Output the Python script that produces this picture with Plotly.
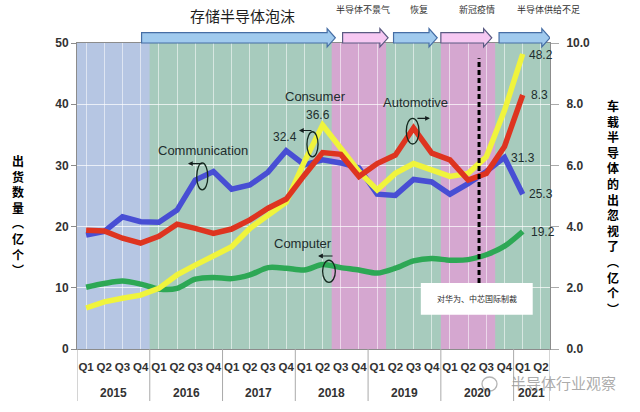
import plotly.graph_objects as go

# ---- data ----
quarters = ['Q1', 'Q2', 'Q3', 'Q4'] * 6 + ['Q1', 'Q2']
years = ['2015', '2016', '2017', '2018', '2019', '2020', '2021']
year_quarters = [4, 4, 4, 4, 4, 4, 2]

# 亿个 (left axis)
communication = [18.6, 19.2, 21.6, 20.8, 20.7, 22.7, 27.6, 29.0, 26.1, 26.8, 28.9, 32.4, 30.1,
                 30.9, 30.4, 29.6, 25.3, 25.1, 27.7, 27.3, 25.3, 27.0, 29.0, 31.3, 25.3]
consumer = [6.7, 7.7, 8.3, 8.8, 9.9, 12.1, 13.7, 15.1, 16.7, 19.7, 21.9, 24.0, 30.6,
            36.6, 32.8, 29.0, 26.0, 28.7, 30.3, 29.2, 28.2, 28.7, 31.4, 39.0, 48.2]
computer = [10.1, 10.7, 11.1, 10.6, 9.8, 9.9, 11.4, 11.7, 11.5, 12.1, 13.3, 13.2, 12.9,
            13.8, 13.3, 12.9, 12.4, 13.2, 14.4, 14.8, 14.5, 14.6, 15.4, 16.8, 19.2]
# 车载半导体 (right axis)
automotive = [3.88, 3.86, 3.62, 3.46, 3.68, 4.08, 3.94, 3.78, 3.92, 4.22, 4.6, 4.9, 5.68,
              6.42, 6.36, 5.64, 6.06, 6.34, 7.22, 6.40, 6.18, 5.52, 5.74, 6.62, 8.3]

# background periods (start, end in quarter index) and top arrows
bands = [(-0.5, 3.5, 'blue'), (3.5, 13.5, 'green'), (13.5, 16.5, 'pink'),
         (16.5, 19.5, 'green'), (19.5, 22.5, 'pink'), (22.5, 25.5, 'green')]
phases = ['存储半导体泡沫', '半导体不景气', '恢复', '新冠疫情', '半导体供给不足']
phase_arrows = [(3.05, 13.7, 'blue'), (14.1, 16.6, 'pink'), (16.9, 19.3, 'blue'),
                (19.5, 22.3, 'pink'), (22.7, 25.5, 'blue')]
phase_text_x = [8.6, 15.2, 18.3, 21.5, 25.4]

x = list(range(len(communication)))

band_colors = {'blue': 'rgb(182,198,227)', 'green': 'rgb(167,203,189)', 'pink': 'rgb(213,167,208)'}
arrow_fill = {'blue': 'rgb(160,202,238)', 'pink': 'rgb(246,200,242)'}
arrow_line = {'blue': 'rgb(70,110,165)', 'pink': 'rgb(90,90,130)'}

fig = go.Figure()

fig.add_trace(go.Scatter(x=x, y=computer, mode='lines',
                         line=dict(color='rgb(45,168,85)', width=5.5, shape='spline', smoothing=0.8),
                         hoverinfo='skip'))
fig.add_trace(go.Scatter(x=x, y=communication, mode='lines', line=dict(color='rgb(72,78,212)', width=5.5),
                         hoverinfo='skip'))
fig.add_trace(go.Scatter(x=x, y=consumer, mode='lines', line=dict(color='rgb(240,244,60)', width=5.5),
                         hoverinfo='skip'))
fig.add_trace(go.Scatter(x=x, y=automotive, mode='lines', line=dict(color='rgb(222,52,32)', width=5.5),
                         yaxis='y2', hoverinfo='skip'))

shapes = []
for x0, x1, c in bands:
    shapes.append(dict(type='rect', xref='x', yref='paper', x0=x0, x1=x1, y0=0, y1=1,
                       fillcolor=band_colors[c], line=dict(width=0), layer='below'))

# top arrows
for x0, x1, c in phase_arrows:
    xh = x1 - 0.45
    path = (f'M {x0},1.0 L {xh},1.0 L {xh},0.987 L {x1},1.017 L {xh},1.047 '
            f'L {xh},1.034 L {x0},1.034 Z')
    shapes.append(dict(type='path', xref='x', yref='paper', path=path,
                       fillcolor=arrow_fill[c], line=dict(color=arrow_line[c], width=1.2)))

# year separators below the axis
sep = [-0.5]
pos = -0.5
for n in year_quarters:
    pos += n
    sep.append(pos)
for s in sep:
    shapes.append(dict(type='line', xref='x', yref='paper', x0=s, x1=s, y0=0, y1=-0.17,
                       line=dict(color='rgb(170,170,170)', width=1)))

# dashed marker line
shapes.append(dict(type='line', xref='x', yref='y', x0=21.6, x1=21.6, y0=10.8, y1=47.5,
                   line=dict(color='black', width=3, dash='5px,3px')))

# white note box
shapes.append(dict(type='rect', xref='x', yref='y', x0=18.4, x1=24.55, y0=5.6, y1=10.8,
                   fillcolor='white', line=dict(width=0)))

# ellipses around series labels
ellipses = [(6.08, 6.69, 26.0, 30.4), (12.14, 12.75, 31.4, 35.5),
            (17.6, 18.3, 33.5, 37.7), (13.0, 13.7, 10.9, 14.5)]
for ex0, ex1, ey0, ey1 in ellipses:
    shapes.append(dict(type='circle', xref='x', yref='y', x0=ex0, x1=ex1, y0=ey0, y1=ey1,
                       line=dict(color='rgb(20,40,30)', width=1.3)))

# wechat-like icon of the watermark
shapes.append(dict(type='circle', xref='paper', yref='paper',
                   x0=(482 - 77) / 473, x1=(497 - 77) / 473, y0=(349 - 391) / 306, y1=(349 - 377) / 306,
                   line=dict(color='rgba(160,160,160,0.8)', width=1.3)))

annotations = []
dark = 'rgb(30,45,45)'
series_labels = [('Communication', 6.4, 32.4), ('Consumer', 12.6, 41.2),
                 ('Automotive', 18.1, 40.2), ('Computer', 11.9, 17.3)]
for t, ax_, ay_ in series_labels:
    annotations.append(dict(x=ax_, y=ay_, xref='x', yref='y', text=t, showarrow=False,
                            font=dict(family='Liberation Sans', size=13, color=dark)))

# small arrows from the ellipses to their axis
arrows = [(5.6, 30.3, 16), (11.7, 35.7, 14), (18.9, 37.7, -14), (12.75, 15.2, 16)]
for hx, hy, off in arrows:
    annotations.append(dict(x=hx, y=hy, xref='x', yref='y', ax=off, ay=0, text='',
                            showarrow=True, arrowhead=2, arrowsize=0.8, arrowwidth=1.2,
                            arrowcolor='rgb(20,30,30)'))

value_labels = [('32.4', 10.95, 34.6), ('36.6', 12.75, 38.2), ('48.2', 25.0, 48.0),
                ('8.3', 24.9, 41.5), ('31.3', 24.0, 31.2), ('25.3', 25.0, 25.3),
                ('19.2', 25.1, 19.1)]
for t, vx, vy in value_labels:
    annotations.append(dict(x=vx, y=vy, xref='x', yref='y', text=t, showarrow=False,
                            font=dict(family='Liberation Sans', size=12, color=dark)))

# phase titles above arrows
for i, t in enumerate(phases):
    big = i == 0
    annotations.append(dict(x=phase_text_x[i], y=(43 - (15 if big else 10)) / 306 + 1,
                            xref='x', yref='paper', yanchor='middle',
                            text=t, showarrow=False,
                            font=dict(family='Noto Sans CJK SC', size=15 if big else 9,
                                      color='rgb(30,30,30)' if big else 'rgb(50,50,50)')))

# year labels
pos = -0.5
for yname, n in zip(years, year_quarters):
    annotations.append(dict(x=pos + n / 2, y=(349 - 393) / 306, xref='x', yref='paper',
                            yanchor='middle', text=yname, showarrow=False,
                            font=dict(family='Liberation Sans', size=12, color='rgb(50,50,50)',
                                      weight='bold')))
    pos += n

# vertical axis titles, upright characters
left_title = list('出货数量') + ['︵', '亿', '个', '︶']
right_title = list('车载半导体的出忽视了') + ['︵', '亿', '个', '︶']
annotations.append(dict(x=(18 - 77) / 473, y=(349 - 215) / 306, xref='paper', yref='paper',
                        text='<br>'.join(left_title), showarrow=False,
                        xanchor='center', yanchor='middle',
                        font=dict(family='Noto Sans CJK SC', size=12, color='black', weight='bold')))
annotations.append(dict(x=(613 - 77) / 473, y=(349 - 207) / 306, xref='paper', yref='paper',
                        text='<br>'.join(right_title), showarrow=False,
                        xanchor='center', yanchor='middle',
                        font=dict(family='Noto Sans CJK SC', size=12, color='black', weight='bold')))

annotations.append(dict(x=21.5, y=8.2, xref='x', yref='y', text='对华为、中芯国际制裁',
                        showarrow=False, font=dict(family='Noto Sans CJK SC', size=8, color='rgb(40,40,40)')))
annotations.append(dict(x=(563 - 77) / 473, y=(349 - 382) / 306, xref='paper', yref='paper',
                        xanchor='center', yanchor='middle',
                        text='半导体行业观察', showarrow=False,
                        font=dict(family='Noto Sans CJK SC', size=15, color='rgba(150,150,150,0.8)')))

fig.update_layout(
    width=640, height=412,
    margin=dict(l=77, r=90, t=43, b=63),
    paper_bgcolor='white',
    plot_bgcolor='rgb(167,203,189)',
    showlegend=False,
    shapes=shapes,
    annotations=annotations,
    xaxis=dict(range=[-0.5, 25.5], tickmode='array', tickvals=list(range(len(quarters))),
               ticktext=quarters, tickangle=0, showgrid=True,
               gridcolor='rgba(255,255,255,0.55)', gridwidth=1,
               ticks='outside', ticklen=7, tickcolor='rgba(0,0,0,0)',
               tickfont=dict(family='Liberation Sans', size=11.5, color='rgb(50,50,50)', weight='bold'),
               showline=True, linecolor='rgb(140,140,140)', mirror=True, zeroline=False),
    yaxis=dict(range=[0, 50], dtick=10, showgrid=True, gridcolor='rgba(255,255,255,0.7)',
               ticks='outside', ticklen=5, tickcolor='rgb(140,140,140)',
               tickfont=dict(family='Liberation Sans', size=12, color='rgb(50,50,50)', weight='bold'),
               showline=True, linecolor='rgb(140,140,140)', mirror=True, zeroline=False),
    yaxis2=dict(range=[0, 10], dtick=2, tickformat='.1f', overlaying='y', side='right',
                showgrid=False, ticks='outside', ticklen=8, tickcolor='rgb(170,170,170)',
                ticklabelstandoff=5,
                tickfont=dict(family='Liberation Sans', size=12, color='rgb(50,50,50)', weight='bold'),
                zeroline=False),
)

fig.write_html('out.html', config={'displayModeBar': False},
               post_script="document.body.style.margin='0';")
